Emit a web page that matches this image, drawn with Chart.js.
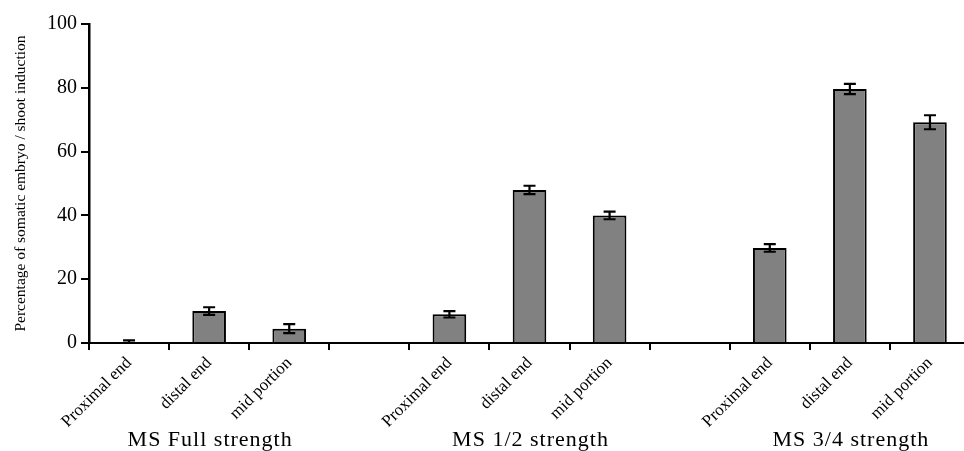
<!DOCTYPE html>
<html>
<head>
<meta charset="utf-8">
<script src="https://cdn.jsdelivr.net/npm/chart.js@4/dist/chart.umd.min.js"></script>
<style>
html,body{margin:0;padding:0;background:#fff;overflow:hidden;width:964px;height:451px;}
#wrap{width:970px;height:451px;position:relative;}
</style>
</head>
<body>
<div id="wrap"><canvas id="c"></canvas></div>
<script>
// ---- data ----
const categories = ["Proximal end","distal end","mid portion","","Proximal end","distal end","mid portion","","Proximal end","distal end","mid portion"];
const values     = [0, 10, 4.5, null, 9, 48, 40, null, 29.8, 79.6, 69.2];
const errors     = [0.8, 1.2, 1.4, null, 1.0, 1.3, 1.2, null, 1.2, 1.6, 2.2];
const groupLabels = ["MS Full strength","MS 1/2 strength","MS 3/4 strength"];
const groupCenterIndex = [1, 5, 9];
const yTicks = [0, 20, 40, 60, 80, 100];
const yTitle = "Percentage of somatic embryo / shoot induction";

const SERIF = "'Liberation Serif','Times New Roman',serif";

const errorBarPlugin = {
  id: 'errorBars',
  afterDatasetsDraw(chart) {
    const ctx = chart.ctx;
    const meta = chart.getDatasetMeta(0);
    const y = chart.scales.y;
    const area = chart.chartArea;
    ctx.save();
    ctx.beginPath();
    ctx.rect(area.left, area.top - 10, area.right - area.left, area.bottom - area.top + 9);
    ctx.clip();
    ctx.strokeStyle = '#000';
    ctx.lineWidth = 2.2;
    meta.data.forEach((bar, i) => {
      if (values[i] == null || errors[i] == null) return;
      const x = bar.x;
      const yt = y.getPixelForValue(values[i] + errors[i]);
      const yb = y.getPixelForValue(values[i] - errors[i]);
      const hw = 6;
      ctx.beginPath();
      ctx.moveTo(x, yt); ctx.lineTo(x, yb);
      ctx.moveTo(x - hw, yt); ctx.lineTo(x + hw, yt);
      ctx.moveTo(x - hw, yb); ctx.lineTo(x + hw, yb);
      ctx.stroke();
    });
    ctx.restore();
  }
};

const groupLabelPlugin = {
  id: 'groupLabels',
  afterDraw(chart) {
    const ctx = chart.ctx;
    const x = chart.scales.x;
    ctx.save();
    ctx.fillStyle = '#000';
    ctx.font = "22px " + SERIF;
    ctx.textAlign = 'center';
    ctx.textBaseline = 'alphabetic';
    try { ctx.letterSpacing = '1px'; } catch(e) {}
    groupLabels.forEach((g, k) => {
      ctx.fillText(g, x.getPixelForValue(groupCenterIndex[k]) + 1, 446);
    });
    ctx.restore();
  }
};

new Chart(document.getElementById('c'), {
  type: 'bar',
  data: {
    labels: categories,
    datasets: [{
      data: values,
      backgroundColor: '#818182',
      borderColor: '#000',
      borderWidth: 2,
      borderSkipped: 'bottom',
      barPercentage: 0.42,
      categoryPercentage: 1.0
    }]
  },
  options: {
    responsive: true,
    maintainAspectRatio: false,
    animation: false,
    layout: { padding: { top: 24, right: 0, bottom: 0, left: 0 } },
    plugins: { legend: { display: false }, tooltip: { enabled: false } },
    scales: {
      x: {
        offset: true,
        grid: { offset: true, drawOnChartArea: false, drawTicks: true, tickLength: 7, color: '#000', lineWidth: 2 },
        border: { display: true, color: '#000', width: 2 },
        ticks: {
          color: '#000',
          font: { family: SERIF, size: 17 },
          minRotation: 45, maxRotation: 45,
          padding: 3,
          autoSkip: false
        },
        afterFit(scale) { scale.height = 108; }
      },
      y: {
        min: 0, max: 100,
        afterBuildTicks(scale) { scale.ticks = yTicks.map(v => ({ value: v })); },
        grid: { drawOnChartArea: false, drawTicks: true, tickLength: 8, color: '#000', lineWidth: 2 },
        border: { display: true, color: '#000', width: 2.5 },
        ticks: {
          color: '#000',
          font: { family: SERIF, size: 20 },
          padding: 4
        },
        title: {
          display: true,
          text: yTitle,
          color: '#000',
          font: { family: SERIF, size: 15.5 },
          padding: { top: 12, bottom: 0 }
        },
        afterFit(scale) { scale.width = 89; }
      }
    }
  },
  plugins: [errorBarPlugin, groupLabelPlugin]
});
</script>
</body>
</html>
